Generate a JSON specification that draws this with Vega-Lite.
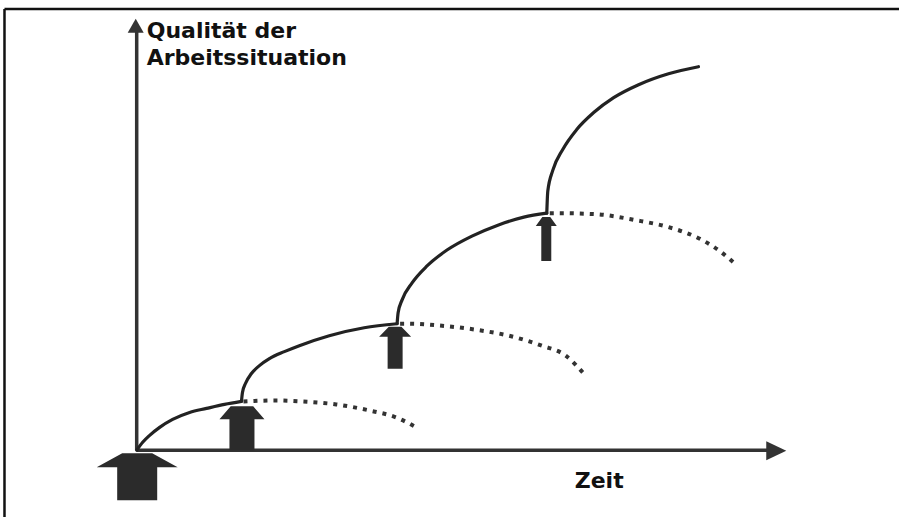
{
  "$schema": "https://vega.github.io/schema/vega-lite/v6.json",
  "width": 901,
  "height": 519,
  "padding": 0,
  "autosize": {"type": "fit", "contains": "padding"},
  "config": {"view": {"stroke": null}},
  "background": "white",
  "datasets": {
    "frame": [
      {"x": -132.5, "y": 443, "x2": -132.5, "y2": -67},
      {"x": -132.5, "y": 443, "x2": 764, "y2": 443}
    ],
    "axes": [
      {"x": 0, "y": 0, "x2": 0, "y2": 422},
      {"x": 0, "y": 0, "x2": 633, "y2": 0}
    ],
    "yhead": [{"x": -1, "y": 426}],
    "xhead": [{"x": 641, "y": -0.5}],
    "solid": [
      {"seg": "a", "x": 0, "y": 0}, {"seg": "a", "x": 6, "y": 8}, {"seg": "a", "x": 13, "y": 15}, {"seg": "a", "x": 23, "y": 23}, {"seg": "a", "x": 36, "y": 31}, {"seg": "a", "x": 53, "y": 38}, {"seg": "a", "x": 70, "y": 42}, {"seg": "a", "x": 88, "y": 46}, {"seg": "a", "x": 105, "y": 49},
      {"seg": "b", "x": 105, "y": 49}, {"seg": "b", "x": 106, "y": 58}, {"seg": "b", "x": 109, "y": 67}, {"seg": "b", "x": 115, "y": 77}, {"seg": "b", "x": 123, "y": 85}, {"seg": "b", "x": 133, "y": 92}, {"seg": "b", "x": 148, "y": 99}, {"seg": "b", "x": 163, "y": 105}, {"seg": "b", "x": 193, "y": 115}, {"seg": "b", "x": 228, "y": 123}, {"seg": "b", "x": 261, "y": 127},
      {"seg": "c", "x": 261, "y": 127}, {"seg": "c", "x": 262, "y": 138}, {"seg": "c", "x": 266, "y": 151}, {"seg": "c", "x": 276, "y": 168}, {"seg": "c", "x": 291, "y": 185}, {"seg": "c", "x": 311, "y": 201}, {"seg": "c", "x": 336, "y": 215}, {"seg": "c", "x": 362, "y": 226}, {"seg": "c", "x": 388, "y": 234}, {"seg": "c", "x": 411, "y": 238},
      {"seg": "d", "x": 411, "y": 238}, {"seg": "d", "x": 412, "y": 260}, {"seg": "d", "x": 417, "y": 281}, {"seg": "d", "x": 427, "y": 302}, {"seg": "d", "x": 441, "y": 322}, {"seg": "d", "x": 458, "y": 339}, {"seg": "d", "x": 478, "y": 354}, {"seg": "d", "x": 503, "y": 367}, {"seg": "d", "x": 533, "y": 378}, {"seg": "d", "x": 563, "y": 385}
    ],
    "dotted": [
      {"seg": "a", "x": 107, "y": 49}, {"seg": "a", "x": 140, "y": 50}, {"seg": "a", "x": 166, "y": 49}, {"seg": "a", "x": 200, "y": 46}, {"seg": "a", "x": 233, "y": 40}, {"seg": "a", "x": 260, "y": 33}, {"seg": "a", "x": 282, "y": 22},
      {"seg": "b", "x": 264, "y": 127}, {"seg": "b", "x": 271, "y": 127}, {"seg": "b", "x": 306, "y": 125}, {"seg": "b", "x": 340, "y": 121}, {"seg": "b", "x": 373, "y": 115}, {"seg": "b", "x": 406, "y": 105}, {"seg": "b", "x": 430, "y": 95}, {"seg": "b", "x": 448, "y": 77},
      {"seg": "c", "x": 414, "y": 238}, {"seg": "c", "x": 423, "y": 238}, {"seg": "c", "x": 460, "y": 237}, {"seg": "c", "x": 500, "y": 231}, {"seg": "c", "x": 533, "y": 224}, {"seg": "c", "x": 565, "y": 212}, {"seg": "c", "x": 583, "y": 201}, {"seg": "c", "x": 600, "y": 187}
    ],
    "arrow0": [{"x": 0.5, "y": -26.5}],
    "arrow1": [{"x": 105.5, "y": 22}],
    "arrow2": [{"x": 259, "y": 103}],
    "arrow3": [{"x": 410.5, "y": 212}],
    "labels": [
      {"x": 10, "y": 414, "label": "Qualität der"},
      {"x": 10, "y": 387, "label": "Arbeitssituation"},
      {"x": 439, "y": -38, "label": "Zeit"}
    ]
  },
  "encoding": {
    "x": {"field": "x", "type": "quantitative", "scale": {"domain": [-137, 764], "zero": false, "nice": false}, "axis": null},
    "y": {"field": "y", "type": "quantitative", "scale": {"domain": [-67, 452], "zero": false, "nice": false}, "axis": null}
  },
  "layer": [
    {
      "data": {"name": "frame"},
      "mark": {"type": "rule", "color": "#111111", "strokeWidth": 2.5},
      "encoding": {"x2": {"field": "x2"}, "y2": {"field": "y2"}}
    },
    {
      "data": {"name": "axes"},
      "mark": {"type": "rule", "color": "#333333", "strokeWidth": 3.5},
      "encoding": {"x2": {"field": "x2"}, "y2": {"field": "y2"}}
    },
    {
      "data": {"name": "yhead"},
      "mark": {"type": "point", "filled": true, "opacity": 1, "color": "#333333", "strokeWidth": 0, "size": 256, "shape": "M0,-0.9L1,0.85L-1,0.85Z"},
      "encoding": {}
    },
    {
      "data": {"name": "xhead"},
      "mark": {"type": "point", "filled": true, "opacity": 1, "color": "#333333", "strokeWidth": 0, "size": 400, "shape": "M1,0L-1,-0.95L-1,0.95Z"},
      "encoding": {}
    },
    {
      "data": {"name": "solid"},
      "mark": {"type": "line", "color": "#222222", "strokeWidth": 3.2, "interpolate": "monotone", "strokeCap": "round"},
      "encoding": {"detail": {"field": "seg", "type": "nominal"}}
    },
    {
      "data": {"name": "dotted"},
      "mark": {"type": "line", "color": "#333333", "strokeWidth": 4, "interpolate": "monotone", "strokeDash": [4, 6]},
      "encoding": {"detail": {"field": "seg", "type": "nominal"}}
    },
    {
      "data": {"name": "arrow0"},
      "mark": {"type": "point", "filled": true, "opacity": 1, "color": "#2b2b2b", "strokeWidth": 0, "size": 6561, "shape": "M-0.37,-0.58L0.37,-0.58L1,-0.235L0.494,-0.235L0.494,0.58L-0.494,0.58L-0.494,-0.235L-1,-0.235Z"},
      "encoding": {}
    },
    {
      "data": {"name": "arrow1"},
      "mark": {"type": "point", "filled": true, "opacity": 1, "color": "#2b2b2b", "strokeWidth": 0, "size": 2025, "shape": "M-0.5,-0.978L0.5,-0.978L1,-0.4L0.556,-0.4L0.556,0.978L-0.556,0.978L-0.556,-0.4L-1,-0.4Z"},
      "encoding": {}
    },
    {
      "data": {"name": "arrow2"},
      "mark": {"type": "point", "filled": true, "opacity": 1, "color": "#2b2b2b", "strokeWidth": 0, "size": 1764, "shape": "M-0.3,-1L0.3,-1L0.762,-0.524L0.357,-0.524L0.357,1L-0.357,1L-0.357,-0.524L-0.762,-0.524Z"},
      "encoding": {}
    },
    {
      "data": {"name": "arrow3"},
      "mark": {"type": "point", "filled": true, "opacity": 1, "color": "#2b2b2b", "strokeWidth": 0, "size": 1936, "shape": "M-0.18,-1L0.18,-1L0.477,-0.59L0.227,-0.59L0.227,1L-0.227,1L-0.227,-0.59L-0.477,-0.59Z"},
      "encoding": {}
    },
    {
      "data": {"name": "labels"},
      "mark": {"type": "text", "align": "left", "baseline": "alphabetic", "font": "DejaVu Sans", "fontWeight": "bold", "fontSize": 22, "color": "#111111"},
      "encoding": {"text": {"field": "label", "type": "nominal"}}
    }
  ]
}
